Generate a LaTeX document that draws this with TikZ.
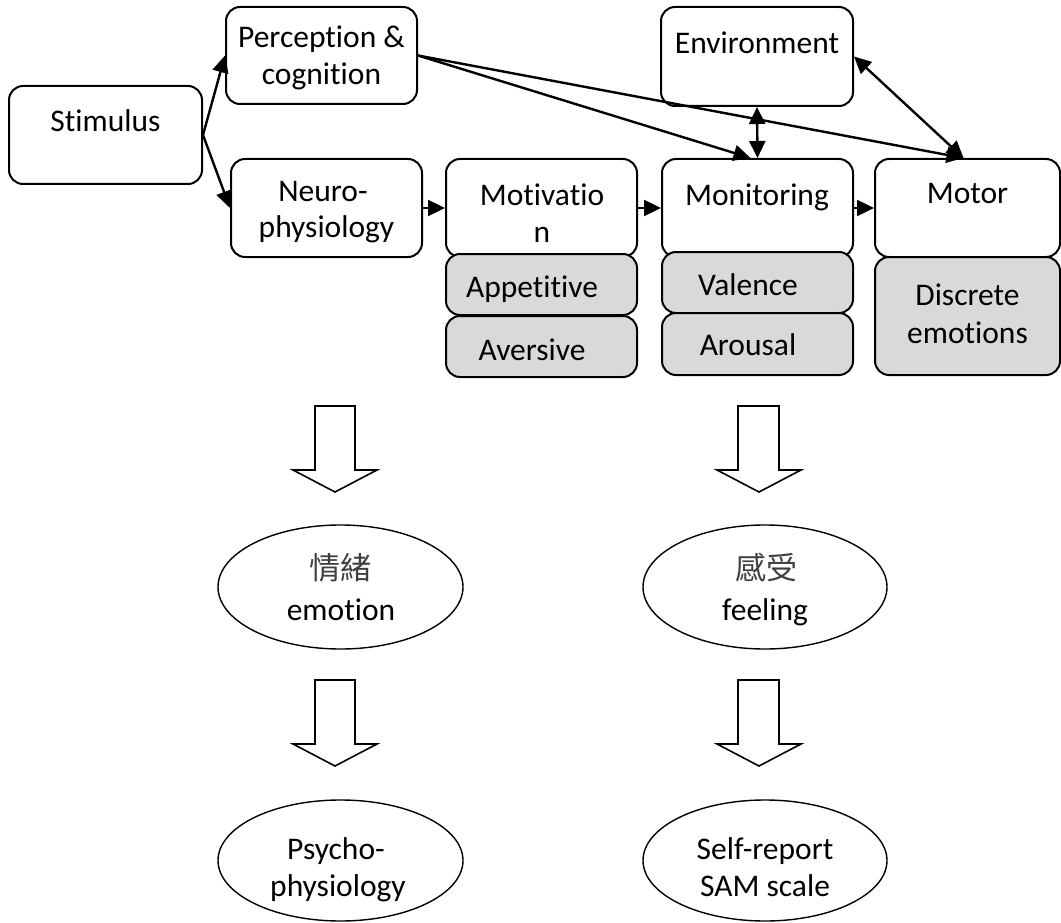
\documentclass[tikz,border=0pt]{standalone}
\usepackage{fontspec}
\setmainfont{Carlito}[Ligatures=NoCommon]
\newfontfamily\cjk{Noto Sans CJK TC}
\usetikzlibrary{arrows.meta,shapes.geometric,calc}
\definecolor{gfill}{HTML}{D9D9D9}
\begin{document}
\begin{tikzpicture}[x=1pt,y=-1pt,
  box/.style={draw, line width=2pt, rounded corners=14pt, rectangle, inner sep=0pt, fill=white},
  gbox/.style={box, fill=gfill},
  txt/.style={anchor=base, inner sep=0pt, font=\fontsize{31.5}{37}\selectfont},
  cjktxt/.style={anchor=base, inner sep=0pt, font=\fontsize{31}{37}\selectfont\cjk, text=black!75},
  oval/.style={draw, ellipse, line width=1.4pt, inner sep=0pt, fill=white},
  tip/.style={Triangle[length=17pt,width=16pt]},
  arr/.style={line width=2.4pt, -{Triangle[length=17pt,width=16pt]}},
  darr/.style={line width=2.4pt, {Triangle[length=17pt,width=16pt]}-{Triangle[length=17pt,width=16pt]}},
  blk/.style={draw, line width=1.6pt, fill=white, line join=miter}
]
\useasboundingbox (0,0) rectangle (1061,923);

% top row boxes
\node[box, minimum width=193pt, minimum height=98pt] (stim) at (105.5,135) {};
\node[box, minimum width=191pt, minimum height=97pt] (perc) at (321.5,55.5) {};
\node[box, minimum width=191pt, minimum height=98pt] (neuro) at (326.5,208) {};
\node[box, minimum width=192pt, minimum height=99pt] (env) at (757,56.5) {};

\node[box, minimum width=191pt, minimum height=98pt] (motiv) at (541.5,208) {};
\node[gbox, minimum width=191pt, minimum height=61pt] (appet) at (541.5,284.5) {};
\node[gbox, minimum width=191pt, minimum height=61pt] (avers) at (541.5,346.5) {};

\node[box, minimum width=191pt, minimum height=98pt] (monit) at (757.5,208) {};
\node[gbox, minimum width=191pt, minimum height=61pt] (valen) at (757.5,282.5) {};
\node[gbox, minimum width=191pt, minimum height=62pt] (arous) at (757.5,344) {};

\node[box, minimum width=185pt, minimum height=98pt] (motor) at (967.5,208) {};
\node[gbox, minimum width=185pt, minimum height=118pt] (discr) at (967.5,316) {};

% texts
\node[txt] (tstim) at (105.5,132) {Stimulus};
\node[txt] (tperc1) at (321.5,48) {Perception \&};
\node[txt] (tperc2) at (321.5,85) {cognition};
\node[txt] (tneu1) at (323,202) {Neuro-};
\node[txt] (tneu2) at (326.5,237) {physiology};
\node[txt] (tenv) at (757,54) {Environment};
\node[txt] (tmot1) at (542,205) {Motivatio};
\node[txt] (tmot2) at (542,242) {n};
\node[txt] (tapp) at (532,297) {Appetitive};
\node[txt] (tave) at (532,360) {Aversive};
\node[txt] (tmon) at (757,205) {Monitoring};
\node[txt] (tval) at (748,295) {Valence};
\node[txt] (taro) at (748,355) {Arousal};
\node[txt] (tmtr) at (967.5,204) {Motor};
\node[txt] (tdis1) at (967.5,305) {Discrete};
\node[txt] (tdis2) at (967.5,343) {emotions};

% connectors
\draw[arr] (stim.east) -- (perc.west);
\draw[arr] (stim.east) -- (neuro.west);
\draw[arr] (neuro.east) -- (motiv.west);
\draw[arr] (motiv.east) -- (monit.west);
\draw[arr] (monit.east) -- (motor.west);
\draw[arr] (perc.east) -- ($(monit.north)+(-7,0)$);
\draw[arr] (perc.east) -- ($(motor.north)+(-4,0)$);
\draw[darr] (env.south) -- (monit.north);
\draw[darr] (env.east) -- ($(motor.north)+(-4,0)$);

% block arrows
\draw[blk] (315,406) -- (355,406) -- (355,470) -- (377,470) -- (335,492) -- (293,470) -- (315,470) -- cycle;
\draw[blk] (738,406) -- (779,406) -- (779,470) -- (801,470) -- (759,492) -- (717,470) -- (738,470) -- cycle;
\draw[blk] (315,680) -- (355,680) -- (355,744) -- (377,744) -- (335,766) -- (293,744) -- (315,744) -- cycle;
\draw[blk] (738,680) -- (779,680) -- (779,744) -- (801,744) -- (759,766) -- (717,744) -- (738,744) -- cycle;

% ellipses
\node[oval, minimum width=245pt, minimum height=124pt] (emo) at (340.5,587) {};
\node[oval, minimum width=244pt, minimum height=124pt] (feel) at (765,587) {};
\node[oval, minimum width=245pt, minimum height=121pt] (psy) at (340.5,860.5) {};
\node[oval, minimum width=244pt, minimum height=121pt] (sam) at (765,860.5) {};

\node[cjktxt] (temo1) at (340,579) {情緒};
\node[txt] (temo2) at (341,620) {emotion};
\node[cjktxt] (tfeel1) at (766,579) {感受};
\node[txt] (tfeel2) at (765,620) {feeling};
\node[txt] (tpsy1) at (336,859) {Psycho-};
\node[txt] (tpsy2) at (338,896) {physiology};
\node[txt] (tsam1) at (765,859) {Self-report};
\node[txt] (tsam2) at (765,896) {SAM scale};
\end{tikzpicture}
\end{document}
